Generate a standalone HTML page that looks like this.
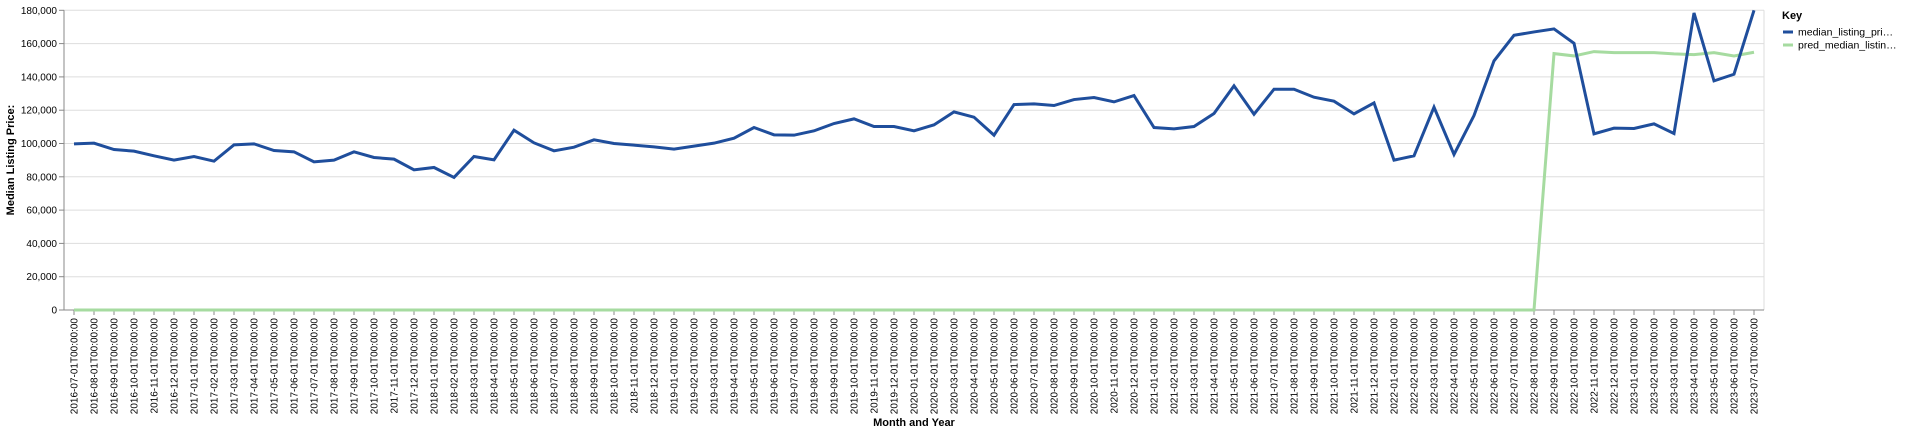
<!DOCTYPE html>
<html><head><meta charset="utf-8"><style>
html,body{margin:0;padding:0;background:#fff;}
svg{display:block;font-family:"Liberation Sans",Arial,sans-serif;}
</style></head><body>
<svg id="chart" width="1920" height="434" viewBox="0 0 1920 434">
<g id="grid"></g>
<g id="yaxis"></g>
<g id="xaxis"></g>
<g id="series"></g>
<text x="14" y="160" transform="rotate(-90 14 160)" text-anchor="middle" font-size="11" font-weight="bold" fill="#000">Median Listing Price:</text>
<text x="914" y="426" text-anchor="middle" font-size="11" font-weight="bold" fill="#000">Month and Year</text>
<g>
<text x="1782" y="19" font-size="11" font-weight="bold" fill="#000">Key</text>
<g>
<line x1="1783" y1="32" x2="1793" y2="32" stroke="#1f4e9c" stroke-width="3"/>
<text x="1798" y="35.5" font-size="10.5" fill="#000">median_listing_pri…</text>
</g>
<g>
<line x1="1783" y1="45" x2="1793" y2="45" stroke="#a6dba0" stroke-width="3"/>
<text x="1798" y="48.5" font-size="10.5" fill="#000">pred_median_listin…</text>
</g>
</g>
</svg>
<script>
const yTicks = [0,20000,40000,60000,80000,100000,120000,140000,160000,180000];
const startYear = 2016, startMonth = 7, nMonths = 85;
const actual = [99800,100200,96400,95400,92600,90000,92200,89400,99200,99800,95800,95000,89000,90000,95000,91600,90600,84200,85600,79600,92200,90200,108000,100400,95600,97800,102200,100000,99000,98000,96600,98400,100200,103200,109600,105200,105000,107600,112000,114800,110200,110200,107600,111200,119000,115800,105000,123400,123800,122800,126400,127600,125000,128800,109600,108800,110200,118000,134600,117600,132600,132600,127800,125400,117800,124400,90000,92600,121800,93400,116800,149600,165000,167000,168800,160200,105800,109200,109000,111800,106000,178400,137600,141600,180000];
const predicted = [0,0,0,0,0,0,0,0,0,0,0,0,0,0,0,0,0,0,0,0,0,0,0,0,0,0,0,0,0,0,0,0,0,0,0,0,0,0,0,0,0,0,0,0,0,0,0,0,0,0,0,0,0,0,0,0,0,0,0,0,0,0,0,0,0,0,0,0,0,0,0,0,0,0,154000,152600,155200,154600,154600,154600,153800,153400,154600,152600,154800];

const NS="http://www.w3.org/2000/svg";
const L=64,R=1764,T=10.3,B=310,yMax=180000;
const step=(R-L-20)/(nMonths-1);
const xs=i=>L+10+i*step;
const ys=v=>B-(v/yMax)*(B-T);
function mk(tag,attrs,parent){const e=document.createElementNS(NS,tag);for(const k in attrs)e.setAttribute(k,attrs[k]);parent.appendChild(e);return e;}
const grid=document.getElementById('grid'),ya=document.getElementById('yaxis'),xa=document.getElementById('xaxis'),se=document.getElementById('series');
const categories=[];
for(let i=0;i<nMonths;i++){const m0=startMonth-1+i;const y=startYear+Math.floor(m0/12);const m=m0%12+1;categories.push(y+'-'+String(m).padStart(2,'0')+'-01T00:00:00');}
yTicks.forEach(t=>{
  const y=ys(t);
  const g=mk('line',{x1:L,x2:R,y1:y,y2:y,stroke:'#ddd','stroke-width':1},grid);
  
  
  mk('line',{x1:L-5,x2:L,y1:y,y2:y,stroke:'#888'},ya);
  const tx=mk('text',{x:L-7,y:y+3.5,'text-anchor':'end','font-size':'10',fill:'#000'},ya);
  tx.textContent=t.toLocaleString('en-US');
  
  
});
mk('line',{x1:L,x2:L,y1:T,y2:B,stroke:'#888'},ya);
mk('line',{x1:R,x2:R,y1:T,y2:B,stroke:'#ddd'},grid);
mk('line',{x1:L,x2:R,y1:B,y2:B,stroke:'#888'},xa);
categories.forEach((c,i)=>{
  const x=xs(i);
  mk('line',{x1:x,x2:x,y1:B,y2:B+5,stroke:'#888'},xa);
  const tx=mk('text',{x:x+3.5,y:B+8,'text-anchor':'end','font-size':'10',fill:'#000',transform:`rotate(-90 ${x+3.5} ${B+8})`},xa);
  tx.textContent=c;
  
  
});
const pp=mk('path',{d:predicted.map((v,i)=>(i?'L':'M')+xs(i)+','+ys(v)).join(''),fill:'none',stroke:'#a6dba0','stroke-width':3,'stroke-linejoin':'miter'},se);


const ap=mk('path',{d:actual.map((v,i)=>(i?'L':'M')+xs(i)+','+ys(v)).join(''),fill:'none',stroke:'#1f4e9c','stroke-width':3,'stroke-linejoin':'miter'},se);


</script>
</body></html>
